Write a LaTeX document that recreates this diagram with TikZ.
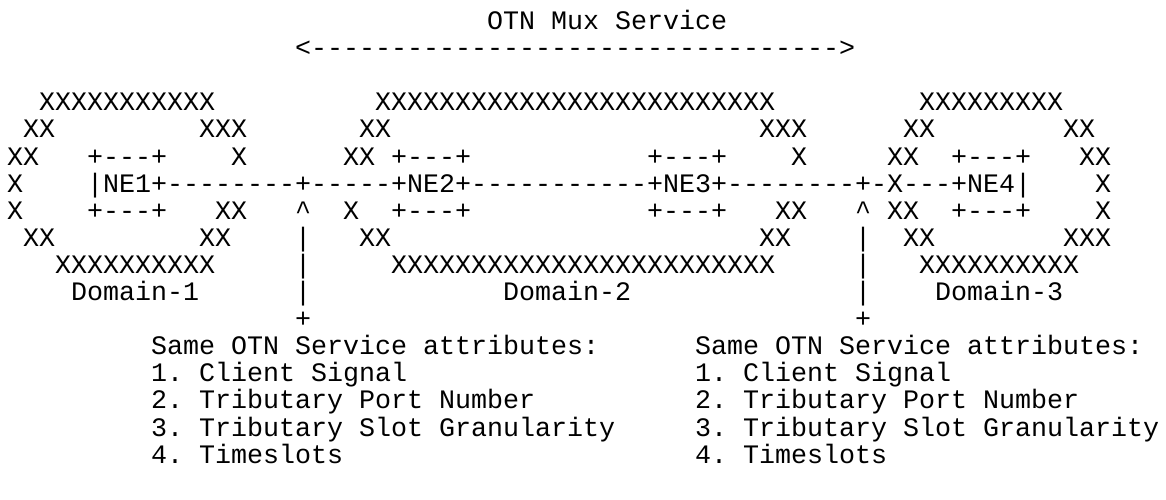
\documentclass[tikz,border=0pt]{standalone}
\usepackage{fontspec}
\setmonofont{Liberation Mono}
\tikzset{t/.style={anchor=base west, inner sep=0pt, outer sep=0pt, font=\ttfamily\fontsize{26.67pt}{27pt}\selectfont}}
\newcommand\T[4]{\node[t] (#1) at ({7pt+#2*16pt},{-2.4pt-#3*27.1pt}) {#4};}
\begin{document}
\begin{tikzpicture}
\fill[white] (0pt,0pt) rectangle (1166pt,-500pt);
\useasboundingbox (0pt,0pt) rectangle (1166pt,-500pt);
% row 1-2
\T{title}{30}{1}{OTN Mux Service}
\T{arrow}{18}{2}{<--------------------------------->}
% row 4
\T{r4a}{2}{4}{XXXXXXXXXXX}
\T{r4b}{23}{4}{XXXXXXXXXXXXXXXXXXXXXXXXX}
\T{r4c}{57}{4}{XXXXXXXXX}
% row 5
\T{r5a}{1}{5}{XX}
\T{r5b}{12}{5}{XXX}
\T{r5c}{22}{5}{XX}
\T{r5d}{47}{5}{XXX}
\T{r5e}{56}{5}{XX}
\T{r5f}{66}{5}{XX}
% row 6
\T{r6a}{0}{6}{XX}
\T{r6b}{5}{6}{+---+}
\T{r6c}{14}{6}{X}
\T{r6d}{21}{6}{XX}
\T{r6e}{24}{6}{+---+}
\T{r6f}{40}{6}{+---+}
\T{r6g}{49}{6}{X}
\T{r6h}{55}{6}{XX}
\T{r6i}{59}{6}{+---+}
\T{r6j}{67}{6}{XX}
% row 7
\T{r7a}{0}{7}{X}
\T{r7b}{5}{7}{|NE1+--------+-----+NE2+-----------+NE3+--------+-X---+NE4|}
\T{r7c}{68}{7}{X}
% row 8
\T{r8a}{0}{8}{X}
\T{r8b}{5}{8}{+---+}
\T{r8c}{13}{8}{XX}
\T{r8d}{18}{8}{\textasciicircum}
\T{r8e}{21}{8}{X}
\T{r8f}{24}{8}{+---+}
\T{r8g}{40}{8}{+---+}
\T{r8h}{48}{8}{XX}
\T{r8i}{53}{8}{\textasciicircum}
\T{r8j}{55}{8}{XX}
\T{r8k}{59}{8}{+---+}
\T{r8l}{68}{8}{X}
% row 9
\T{r9a}{1}{9}{XX}
\T{r9b}{12}{9}{XX}
\T{r9c}{18}{9}{|}
\T{r9d}{22}{9}{XX}
\T{r9e}{47}{9}{XX}
\T{r9f}{53}{9}{|}
\T{r9g}{56}{9}{XX}
\T{r9h}{66}{9}{XXX}
% row 10
\T{r10a}{3}{10}{XXXXXXXXXX}
\T{r10b}{18}{10}{|}
\T{r10c}{24}{10}{XXXXXXXXXXXXXXXXXXXXXXXX}
\T{r10d}{53}{10}{|}
\T{r10e}{57}{10}{XXXXXXXXXX}
% row 11
\T{d1}{4}{11}{Domain-1}
\T{r11b}{18}{11}{|}
\T{d2}{31}{11}{Domain-2}
\T{r11d}{53}{11}{|}
\T{d3}{58}{11}{Domain-3}
% row 12
\T{p1}{18}{12}{+}
\T{p2}{53}{12}{+}
% rows 13-17
\T{la}{9}{13}{Same OTN Service attributes:}
\T{lb}{9}{14}{1. Client Signal}
\T{lc}{9}{15}{2. Tributary Port Number}
\T{ld}{9}{16}{3. Tributary Slot Granularity}
\T{le}{9}{17}{4. Timeslots}
\T{ra}{43}{13}{Same OTN Service attributes:}
\T{rb}{43}{14}{1. Client Signal}
\T{rc}{43}{15}{2. Tributary Port Number}
\T{rd}{43}{16}{3. Tributary Slot Granularity}
\T{re}{43}{17}{4. Timeslots}
\end{tikzpicture}
\end{document}
